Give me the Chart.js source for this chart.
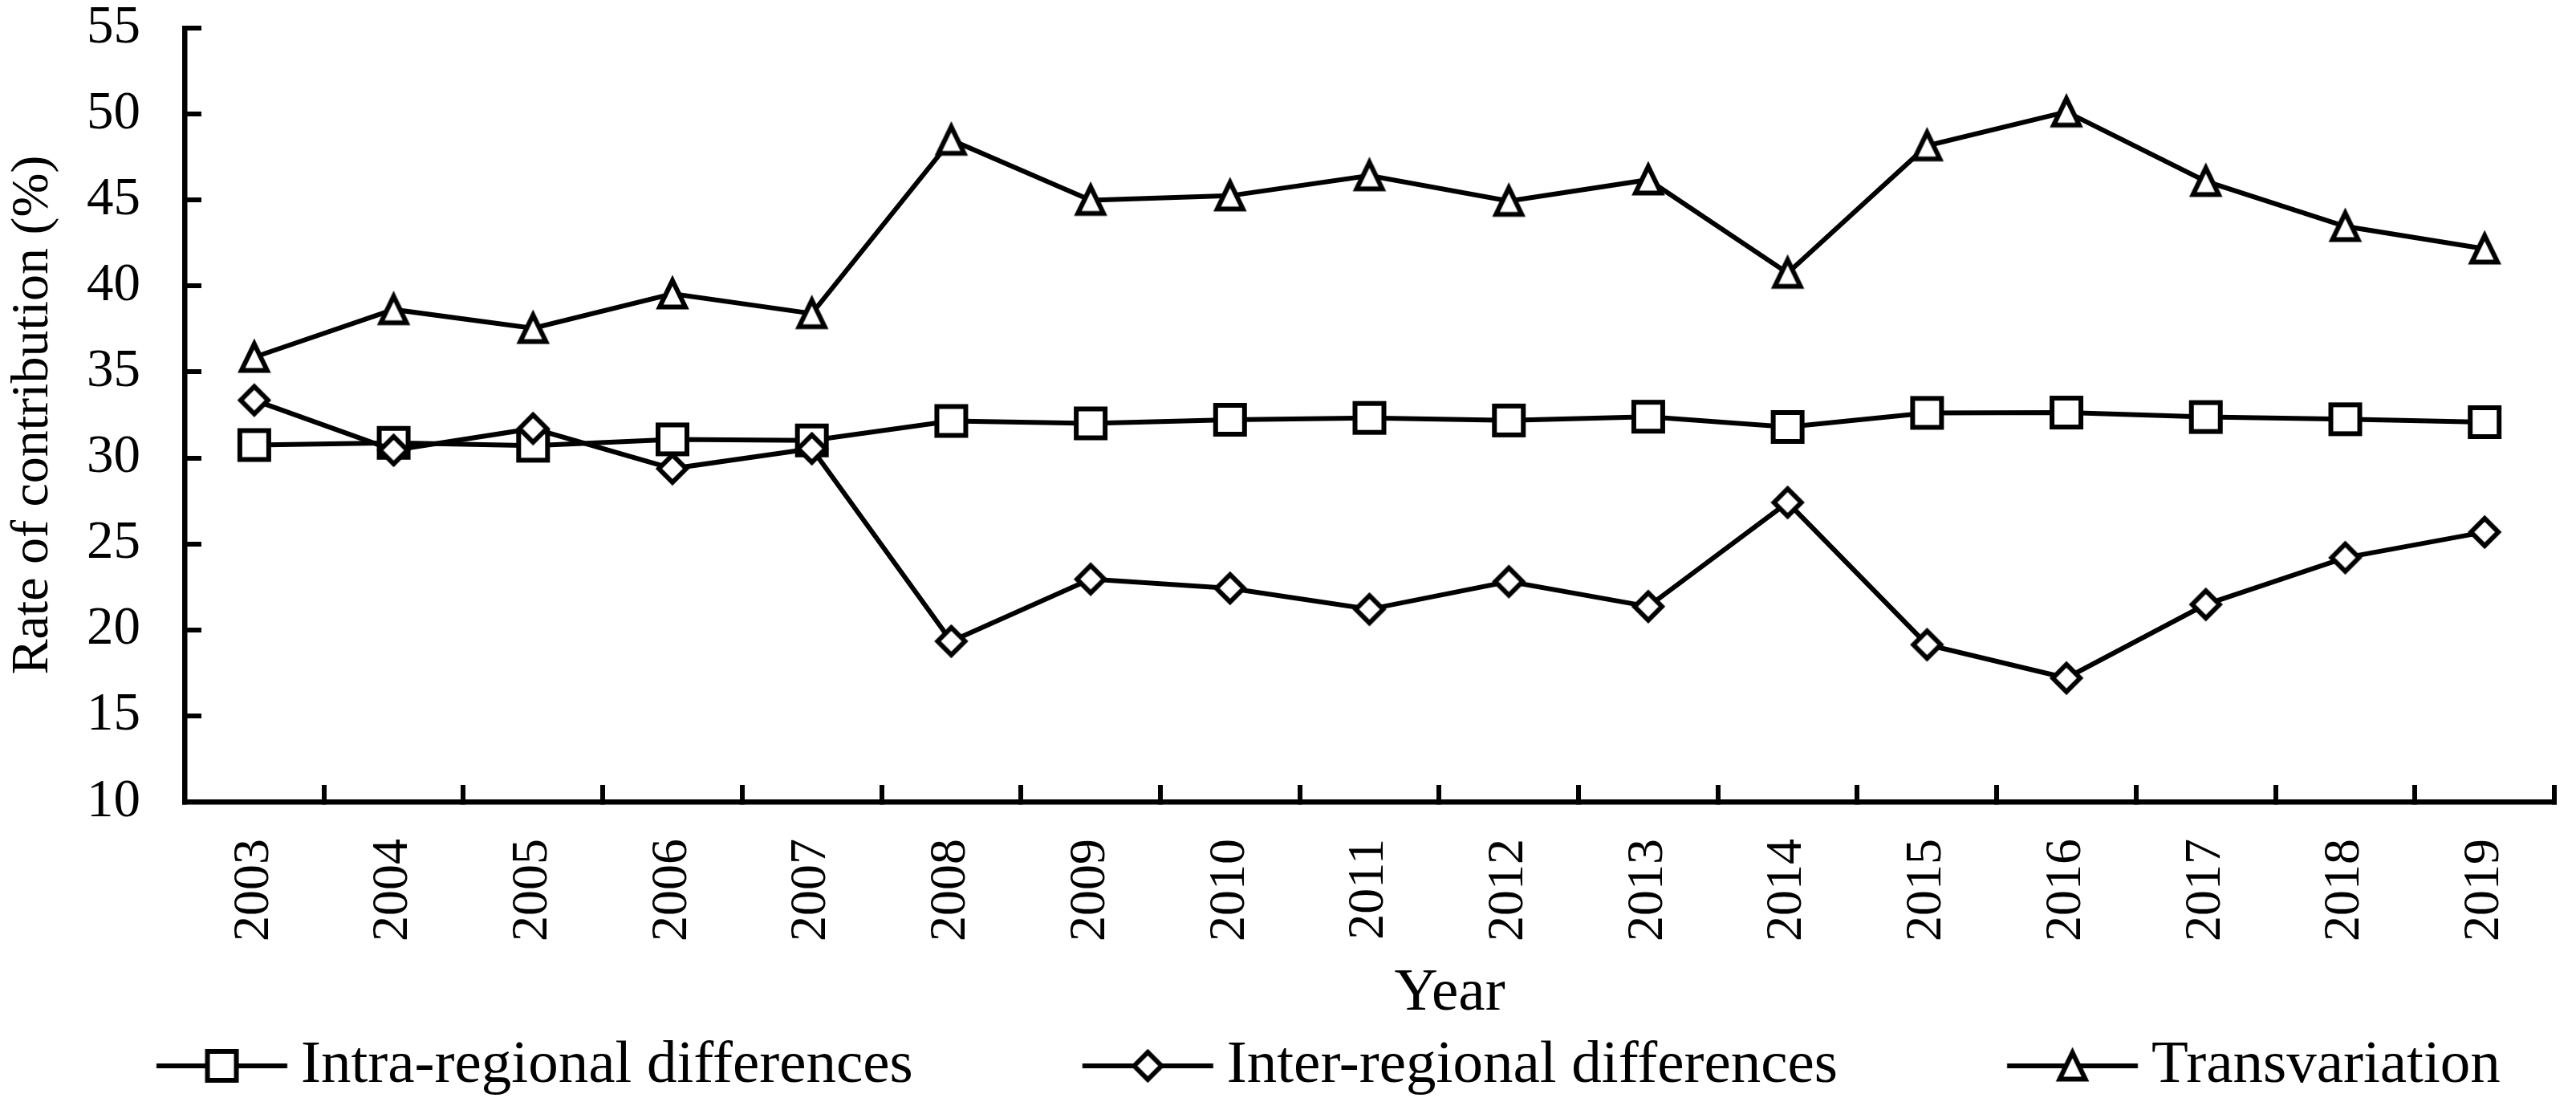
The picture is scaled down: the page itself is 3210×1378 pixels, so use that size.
<!DOCTYPE html>
<html>
<head>
<meta charset="utf-8">
<script src="https://cdn.jsdelivr.net/npm/chart.js@4.4.1/dist/chart.umd.min.js"></script>
<style>
html,body{margin:0;padding:0;background:#ffffff;}
canvas{display:block;}
</style>
</head>
<body>
<canvas id="c" width="3210" height="1378"></canvas>
<script>
// ---------- data ----------
const years = ['2003','2004','2005','2006','2007','2008','2009','2010','2011','2012','2013','2014','2015','2016','2017','2018','2019'];
const intraRegional = [30.75, 30.88, 30.71, 31.08, 31.02, 32.15, 32.01, 32.22, 32.33, 32.18, 32.40, 31.80, 32.62, 32.64, 32.38, 32.25, 32.08];
const interRegional = [33.36, 30.45, 31.71, 29.38, 30.54, 19.34, 22.95, 22.42, 21.20, 22.81, 21.36, 27.41, 19.14, 17.20, 21.48, 24.20, 25.69];
const transvariation = [35.86, 38.63, 37.54, 39.55, 38.40, 48.49, 44.99, 45.25, 46.42, 44.94, 46.18, 40.75, 48.16, 50.13, 46.09, 43.47, 42.16];
const seriesNames = ['Intra-regional differences', 'Inter-regional differences', 'Transvariation'];
const yMin = 10, yMax = 55, yStep = 5;
const xTitle = 'Year';
const yTitle = 'Rate of contribution (%)';

// ---------- styling ----------
const FONT = 'Liberation Serif';
Chart.defaults.font.family = FONT;
Chart.defaults.color = '#000';

const LW = 6;      // series line width
const MBW = 6;     // marker border width
const markerKinds = ['square', 'diamond', 'triangle'];

function markerPath(g, kind, x, y) {
  g.beginPath();
  if (kind === 'square') {
    g.rect(x - 18, y - 18, 36, 36);
  } else if (kind === 'diamond') {
    const r = 17;
    g.moveTo(x - r, y); g.lineTo(x, y - r); g.lineTo(x + r, y); g.lineTo(x, y + r); g.closePath();
  } else {
    g.moveTo(x, y - 16.5); g.lineTo(x + 16, y + 16.5); g.lineTo(x - 16, y + 16.5); g.closePath();
  }
}
function strokeMarker(g, kind, x, y) {
  markerPath(g, kind, x, y);
  g.fillStyle = '#fff';
  g.fill();
  g.lineJoin = 'miter';
  g.miterLimit = 10;
  g.strokeStyle = '#000';
  g.lineWidth = MBW;
  g.stroke();
}
function markerImage(kind) {
  const S = 60;
  const c = document.createElement('canvas');
  c.width = S; c.height = S;
  strokeMarker(c.getContext('2d'), kind, S / 2, S / 2);
  return c;
}
const markerImages = markerKinds.map(markerImage);

// legend geometry
const LEG_FONT = 75, LEG_BW = 323.5, LEG_PAD = 30, LEG_LINE = 163, LEG_GAP = 17;

function legendImage(kind) {
  const lineEnd = LEG_BW / 2 + LEG_FONT / 2 - LEG_GAP;
  const lineStart = lineEnd - LEG_LINE;
  const W = 2 * Math.ceil(lineEnd + 6), H = 70;
  const cx = W / 2, cy = H / 2;
  const c = document.createElement('canvas');
  c.width = W; c.height = H;
  const g = c.getContext('2d');
  g.strokeStyle = '#000';
  g.lineWidth = LW;
  g.beginPath();
  g.moveTo(cx + lineStart, cy);
  g.lineTo(cx + lineEnd, cy);
  g.stroke();
  strokeMarker(g, kind, cx + (lineStart + lineEnd) / 2, cy);
  return c;
}
const legendImages = markerKinds.map(legendImage);

function ds(label, data, img, order) {
  return {
    label, data, order,
    borderColor: '#000', borderWidth: LW,
    pointStyle: img, pointRadius: 21, pointHoverRadius: 21,
    pointBackgroundColor: '#fff', pointBorderColor: '#000', pointBorderWidth: MBW,
    tension: 0, fill: false
  };
}

const xTitlePlugin = {
  id: 'xTitle',
  afterDraw(chart) {
    const {ctx, chartArea} = chart;
    ctx.save();
    ctx.fillStyle = '#000';
    ctx.font = '75px "' + FONT + '"';
    ctx.textAlign = 'center';
    ctx.textBaseline = 'middle';
    ctx.fillText(xTitle, (chartArea.left + chartArea.right) / 2 + 100, chartArea.bottom + 239);
    ctx.restore();
  }
};

new Chart(document.getElementById('c'), {
  type: 'line',
  data: {
    labels: years,
    datasets: [
      ds(seriesNames[0], intraRegional, markerImages[0], 3),
      ds(seriesNames[1], interRegional, markerImages[1], 2),
      ds(seriesNames[2], transvariation, markerImages[2], 1)
    ]
  },
  options: {
    responsive: false,
    animation: false,
    devicePixelRatio: 1,
    layout: {padding: {left: -16, right: 24, top: 35, bottom: 2.5}},
    scales: {
      x: {
        type: 'category',
        offset: true,
        grid: {offset: true, drawOnChartArea: false, drawTicks: true, tickLength: -21, color: '#000', lineWidth: 6},
        border: {display: true, color: '#000', width: 6.5},
        ticks: {font: {size: 64, lineHeight: 1}, color: '#000', minRotation: 90, maxRotation: 90, padding: 67, autoSkip: false},
        afterFit(s) { s.height = 261.5; s.paddingLeft = 0; s.paddingRight = 0; }
      },
      y: {
        min: yMin, max: yMax,
        ticks: {stepSize: yStep, font: {size: 67, lineHeight: 1}, color: '#000', padding: 76},
        grid: {drawOnChartArea: false, drawTicks: true, tickLength: -21, color: '#000', lineWidth: 6},
        border: {display: true, color: '#000', width: 6.5},
        title: {display: true, text: yTitle, font: {size: 66}, color: '#000', padding: {top: 18, bottom: 0}},
        afterFit(s) { s.width = 246; s.paddingTop = 0; s.paddingBottom = 0; }
      }
    },
    plugins: {
      legend: {
        position: 'bottom',
        align: 'start',
        labels: {
          usePointStyle: true,
          pointStyleWidth: LEG_BW,
          padding: LEG_PAD,
          font: {size: LEG_FONT},
          color: '#000',
          generateLabels(chart) {
            return chart.data.datasets.map((d, i) => ({
              text: d.label, pointStyle: legendImages[i], fillStyle: '#fff', strokeStyle: '#000',
              lineWidth: LW, hidden: false, datasetIndex: i, fontColor: '#000'
            }));
          }
        }
      },
      tooltip: {enabled: false}
    }
  },
  plugins: [xTitlePlugin]
});
</script>
</body>
</html>
